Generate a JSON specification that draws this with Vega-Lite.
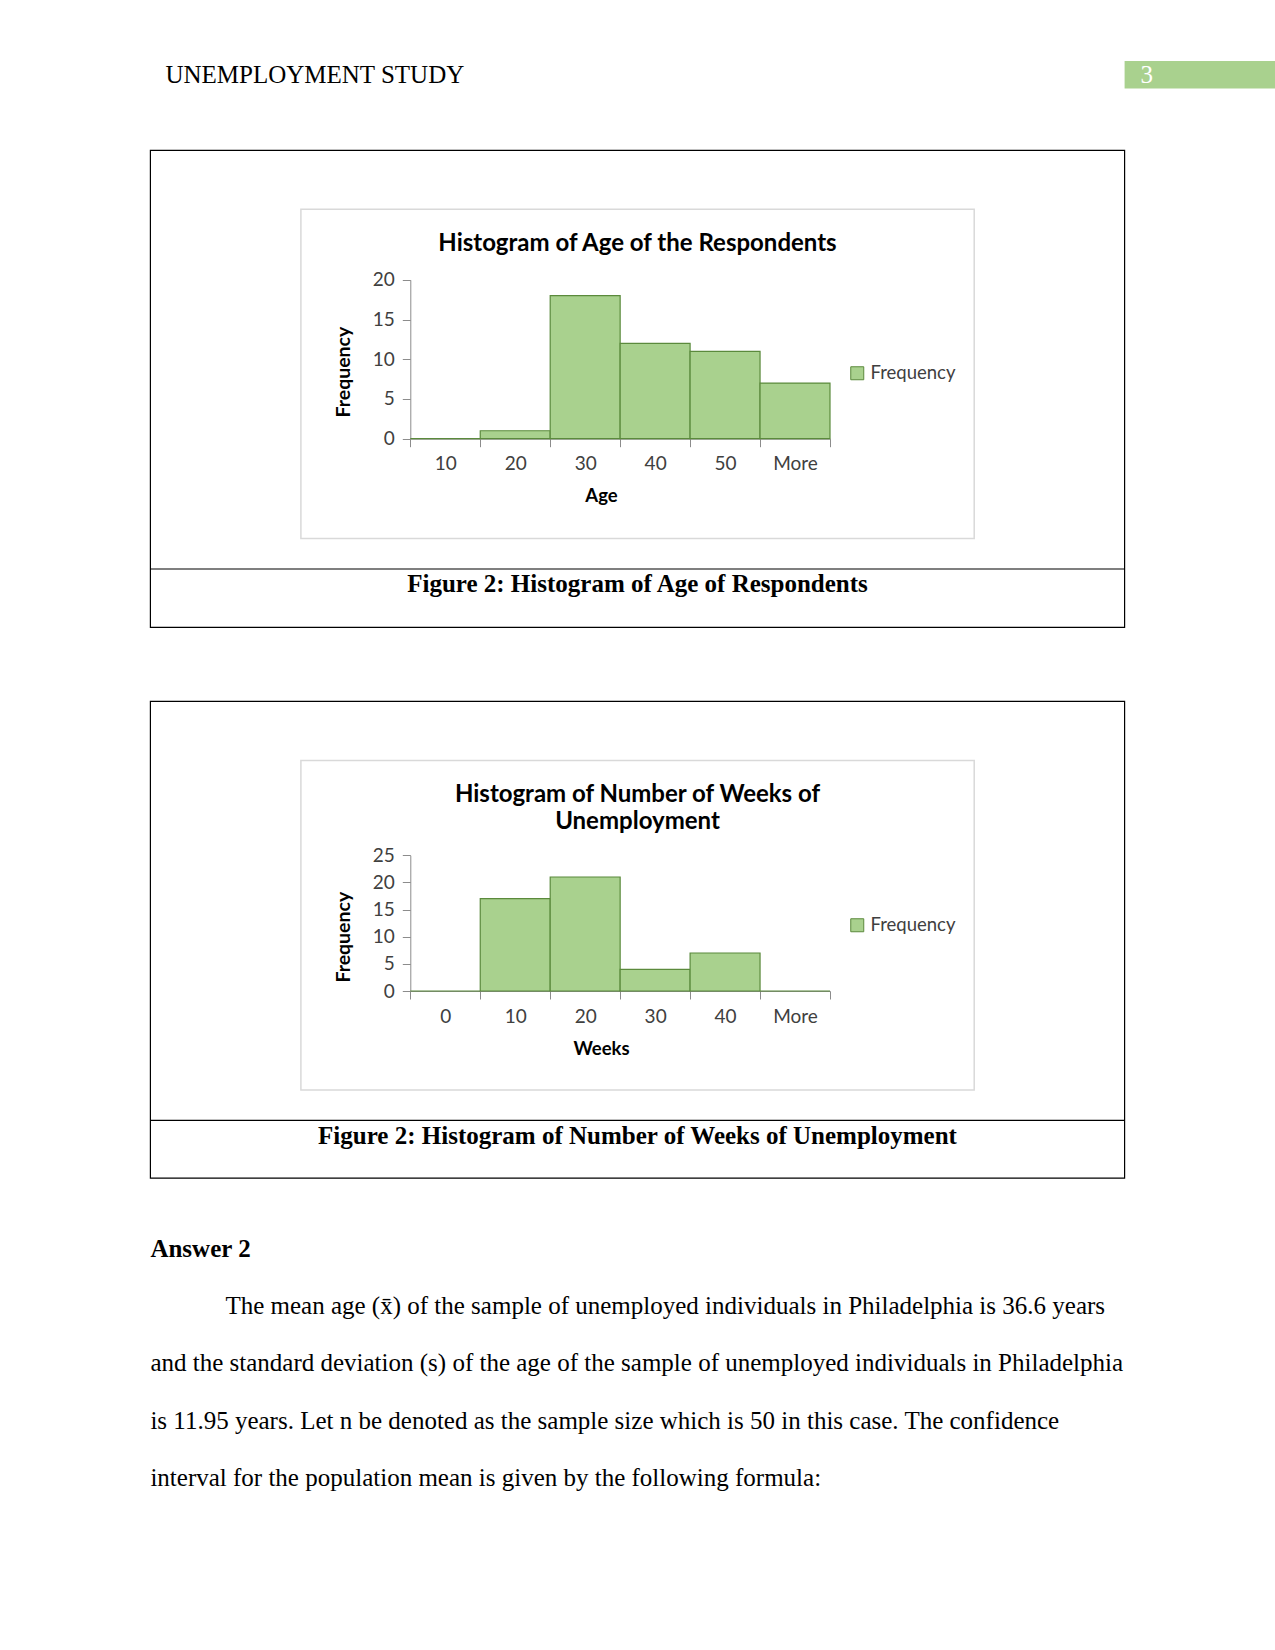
{
  "$schema": "https://vega.github.io/schema/vega-lite/v6.json",
  "width": 1275,
  "height": 1650,
  "padding": 0,
  "autosize": {"type": "none"},
  "background": "white",
  "config": {
    "view": {"stroke": null},
    "axis": {
      "labelFont": "Lato", "labelFontSize": 19, "labelColor": "#404040",
      "titleFont": "Lato", "titleFontSize": 18.5, "titleFontWeight": "bold", "titleColor": "#000000",
      "domainColor": "#8c8c8c", "tickColor": "#8c8c8c", "tickSize": 8, "grid": false, "labelPadding": 8
    },
    "legend": {
      "labelFont": "Lato", "labelFontSize": 18.5, "labelColor": "#404040",
      "symbolType": "square", "symbolSize": 169, "symbolStrokeColor": "#5b8a3c", "symbolStrokeWidth": 1, "labelOffset": 4
    }
  },
  "resolve": {
    "scale": {"x": "independent", "y": "independent", "color": "independent"},
    "axis": {"x": "independent", "y": "independent"},
    "legend": {"color": "independent"}
  },
  "layer": [
    {
      "data": {"values": [{"page": "3"}]},
      "mark": {"type": "rect", "color": "#a9d18e"},
      "encoding": {
        "x": {"datum": 1, "type": "quantitative", "scale": {"domain": [0, 1], "range": [150.4, 1124.6], "nice": false, "zero": false}, "axis": null},
        "x2": {"datum": 1.15437},
        "y": {"datum": 0, "type": "quantitative", "scale": {"domain": [0, 1], "range": [61, 88.4], "nice": false, "zero": false}, "axis": null},
        "y2": {"datum": 1}
      }
    },
    {
      "data": {"values": [{"page": "3"}]},
      "mark": {"type": "text", "align": "left", "baseline": "middle", "font": "Liberation Serif", "fontSize": 25, "color": "#ffffff", "dx": 16},
      "encoding": {
        "text": {"field": "page"},
        "x": {"datum": 1, "type": "quantitative", "scale": {"domain": [0, 1], "range": [150.4, 1124.6], "nice": false, "zero": false}, "axis": null},
        "y": {"datum": 0.5, "type": "quantitative", "scale": {"domain": [0, 1], "range": [61, 88.4], "nice": false, "zero": false}, "axis": null}
      }
    },
    {
      "data": {"values": [{"header": "UNEMPLOYMENT STUDY"}]},
      "mark": {"type": "text", "align": "left", "baseline": "middle", "font": "Liberation Serif", "fontSize": 25, "color": "#000000", "dx": 15, "dy": 0},
      "encoding": {
        "text": {"field": "header"},
        "x": {"datum": 0, "type": "quantitative", "scale": {"domain": [0, 1], "range": [150.4, 1124.6], "nice": false, "zero": false}, "axis": null},
        "y": {"datum": 0.5, "type": "quantitative", "scale": {"domain": [0, 1], "range": [61, 88.4], "nice": false, "zero": false}, "axis": null}
      }
    },
    {
      "data": {"values": [{"figure": "Figure 1"}, {"figure": "Figure 2"}]},
      "mark": {"type": "rect", "filled": false, "color": "#000000", "strokeWidth": 1.2},
      "encoding": {
        "x": {"datum": 0, "type": "quantitative", "scale": {"domain": [0, 1], "range": [150.4, 1124.6], "nice": false, "zero": false}, "axis": null},
        "x2": {"datum": 1},
        "y": {"field": "figure", "type": "nominal", "scale": {"type": "band", "range": [150.4, 1178.2], "paddingInner": 0.1343, "paddingOuter": 0}, "axis": null}
      }
    },
    {
      "data": {"values": [{"figure": "Figure 1"}, {"figure": "Figure 2"}]},
      "mark": {"type": "rule", "color": "#000000", "strokeWidth": 1.2},
      "encoding": {
        "x": {"datum": 0, "type": "quantitative", "scale": {"domain": [0, 1], "range": [150.4, 1124.6], "nice": false, "zero": false}, "axis": null},
        "x2": {"datum": 1},
        "y": {"field": "figure", "type": "nominal", "scale": {"type": "point", "range": [569, 1120.4], "padding": 0}, "axis": null}
      }
    },
    {
      "data": {"values": [{"figure": "Figure 1"}, {"figure": "Figure 2"}]},
      "mark": {"type": "rect", "filled": false, "color": "#d9d9d9", "strokeWidth": 1.5},
      "encoding": {
        "x": {"datum": 0, "type": "quantitative", "scale": {"domain": [0, 1], "range": [300.9, 974.2], "nice": false, "zero": false}, "axis": null},
        "x2": {"datum": 1},
        "y": {"field": "figure", "type": "nominal", "scale": {"type": "band", "range": [209.3, 1089.9], "paddingInner": 0.4027, "paddingOuter": 0}, "axis": null}
      }
    },
    {
      "data": {"values": [
        {"figure": "Figure 1", "title": "Histogram of Age of the Respondents"},
        {"figure": "Figure 2", "title": "Histogram of Number of Weeks of\nUnemployment"}
      ]},
      "mark": {"type": "text", "align": "center", "baseline": "middle", "font": "Lato", "fontSize": 24, "fontWeight": "bold", "color": "#000000", "lineBreak": "\n", "lineHeight": 26.5},
      "encoding": {
        "text": {"field": "title"},
        "y": {"field": "figure", "type": "nominal", "scale": {"type": "point", "range": [244, 795], "padding": 0}, "axis": null}
      }
    },
    {
      "data": {"values": [
        {"figure": "Figure 1", "caption": "Figure 2: Histogram of Age of Respondents"},
        {"figure": "Figure 2", "caption": "Figure 2: Histogram of Number of Weeks of Unemployment"}
      ]},
      "mark": {"type": "text", "align": "center", "baseline": "middle", "font": "Liberation Serif", "fontSize": 25, "fontWeight": "bold", "color": "#000000"},
      "encoding": {
        "text": {"field": "caption"},
        "y": {"field": "figure", "type": "nominal", "scale": {"type": "point", "range": [584, 1136.2], "padding": 0}, "axis": null}
      }
    },
    {
      "data": {"values": [
        {"age": "10", "frequency": 0, "series": "Frequency"},
        {"age": "20", "frequency": 1, "series": "Frequency"},
        {"age": "30", "frequency": 18, "series": "Frequency"},
        {"age": "40", "frequency": 12, "series": "Frequency"},
        {"age": "50", "frequency": 11, "series": "Frequency"},
        {"age": "More", "frequency": 7, "series": "Frequency"}
      ]},
      "mark": {"type": "bar", "stroke": "#5b8a3c", "strokeWidth": 1.2},
      "encoding": {
        "x": {"field": "age", "type": "ordinal", "sort": null,
          "scale": {"range": [410.3, 830], "paddingInner": 0, "paddingOuter": 0},
          "axis": {"orient": "bottom", "offset": -1211.3, "title": "Age", "tickBand": "extent", "labelAngle": 0, "titleX": 601, "titlePadding": 13, "labelPadding": 8}},
        "y": {"field": "frequency", "type": "quantitative",
          "scale": {"domain": [0, 20], "range": [438.7, 279.8], "nice": false, "zero": true},
          "axis": {"orient": "left", "offset": -410.3, "values": [0, 5, 10, 15, 20], "title": "Frequency", "titleY": 371.6, "titlePadding": 19, "titleFontSize": 19.5}},
        "color": {"field": "series", "type": "nominal", "scale": {"range": ["#a9d18e"]},
          "legend": {"title": null, "orient": "none", "legendX": 848, "legendY": 364}}
      }
    },
    {
      "data": {"values": [
        {"weeks": "0", "frequency": 0, "series": "Frequency"},
        {"weeks": "10", "frequency": 17, "series": "Frequency"},
        {"weeks": "20", "frequency": 21, "series": "Frequency"},
        {"weeks": "30", "frequency": 4, "series": "Frequency"},
        {"weeks": "40", "frequency": 7, "series": "Frequency"},
        {"weeks": "More", "frequency": 0, "series": "Frequency"}
      ]},
      "mark": {"type": "bar", "stroke": "#5b8a3c", "strokeWidth": 1.2},
      "encoding": {
        "x": {"field": "weeks", "type": "ordinal", "sort": null,
          "scale": {"range": [410.3, 830], "paddingInner": 0, "paddingOuter": 0},
          "axis": {"orient": "bottom", "offset": -659, "title": "Weeks", "tickBand": "extent", "labelAngle": 0, "titleX": 601, "titlePadding": 13, "labelPadding": 8}},
        "y": {"field": "frequency", "type": "quantitative",
          "scale": {"domain": [0, 25], "range": [991, 855.3], "nice": false, "zero": true},
          "axis": {"orient": "left", "offset": -410.3, "values": [0, 5, 10, 15, 20, 25], "title": "Frequency", "titleY": 936.7, "titlePadding": 19, "titleFontSize": 19.5}},
        "color": {"field": "series", "type": "nominal", "scale": {"range": ["#a9d18e"]},
          "legend": {"title": null, "orient": "none", "legendX": 848, "legendY": 916}}
      }
    },
    {
      "data": {"values": [{"line": 0, "text": "Answer 2"}]},
      "mark": {"type": "text", "align": "left", "baseline": "middle", "font": "Liberation Serif", "fontSize": 25, "fontWeight": "bold", "color": "#000000"},
      "encoding": {
        "text": {"field": "text"},
        "x": {"datum": 0, "type": "quantitative", "scale": {"domain": [0, 1], "range": [150.4, 1124.6], "nice": false, "zero": false}, "axis": null},
        "y": {"field": "line", "type": "quantitative", "scale": {"domain": [0, 4], "range": [1248.5, 1478.1], "nice": false, "zero": false}, "axis": null}
      }
    },
    {
      "data": {"values": [
        {"line": 1, "text": "\u200b\u00a0\u00a0\u00a0\u00a0\u00a0\u00a0\u00a0\u00a0\u00a0\u00a0\u00a0\u00a0The mean age (x̄) of the sample of unemployed individuals in Philadelphia is 36.6 years"},
        {"line": 2, "text": "and the standard deviation (s) of the age of the sample of unemployed individuals in Philadelphia"},
        {"line": 3, "text": "is 11.95 years. Let n be denoted as the sample size which is 50 in this case. The confidence"},
        {"line": 4, "text": "interval for the population mean is given by the following formula:"}
      ]},
      "mark": {"type": "text", "align": "left", "baseline": "middle", "font": "Liberation Serif", "fontSize": 25, "color": "#000000"},
      "encoding": {
        "text": {"field": "text"},
        "x": {"datum": 0, "type": "quantitative", "scale": {"domain": [0, 1], "range": [150.4, 1124.6], "nice": false, "zero": false}, "axis": null},
        "y": {"field": "line", "type": "quantitative", "scale": {"domain": [0, 4], "range": [1248.5, 1478.1], "nice": false, "zero": false}, "axis": null}
      }
    }
  ]
}
